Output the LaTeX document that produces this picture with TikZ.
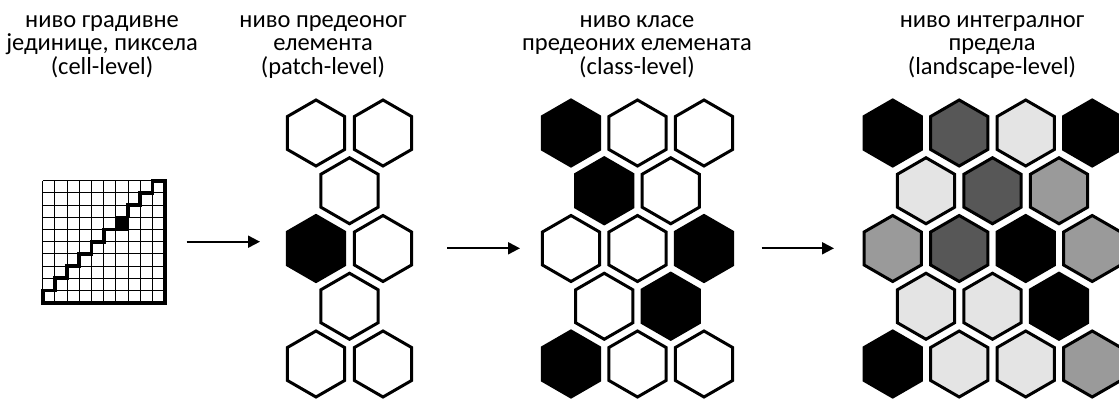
\documentclass[tikz,border=0pt]{standalone}
\usepackage{fontspec}
\setmainfont{Carlito}
\usetikzlibrary{shapes.geometric,arrows.meta}
\definecolor{dgray}{HTML}{575757}
\definecolor{mgray}{HTML}{9A9A9A}
\definecolor{lgray}{HTML}{E4E4E4}
\begin{document}
\begin{tikzpicture}[x=1pt,y=-1pt,
  hexa/.style={regular polygon, regular polygon sides=6, shape border rotate=30,
    minimum size=66pt, inner sep=0pt, outer sep=0pt, draw=black, line width=3pt},
  wh/.style={hexa, fill=white},
  bk/.style={hexa, fill=black},
  dg/.style={hexa, fill=dgray},
  mg/.style={hexa, fill=mgray},
  lg/.style={hexa, fill=lgray},
  lbl/.style={align=center, font=\fontsize{24.5}{23.5}\selectfont, anchor=north, inner sep=0pt},
  arr/.style={line width=2pt, -{Triangle[length=12pt,width=12pt]}}]
\useasboundingbox (0,0) rectangle (1119,401);

% labels
\node[lbl] (t1) at (102,15) {ниво градивне\\јединице, пиксела\\(cell-level)};
\node[lbl] (t2) at (323,15) {ниво предеоног\\елемента\\(patch-level)};
\node[lbl] (t3) at (637,15) {ниво класе\\предеоних елемената\\(class-level)};
\node[lbl] (t4) at (992,15) {ниво интегралног\\предела\\(landscape-level)};

% cell-level grid
\begin{scope}[shift={(42.7,302.7)}, x=12.2pt, y=12.2pt]
  \draw[line width=1.1pt, step=1] (0,0) grid (10,10);
  \filldraw[line width=2.5pt] (6,6) rectangle (7,7);
  \draw[line width=3.8pt, line join=miter]
    (6,6) -- (5,6) -- (5,5) -- (4,5) -- (4,4) -- (3,4) -- (3,3) -- (2,3) -- (2,2)
    -- (1,2) -- (1,1) -- (0,1) -- (0,0) -- (10,0) -- (10,10) -- (9,10) -- (9,9)
    -- (8,9) -- (8,8) -- (7,8) -- (7,7);
\end{scope}

% patch-level
\node[wh] (p1) at (316,133) {};
\node[wh] (p2) at (383,133) {};
\node[wh] (p3) at (349.5,190.75) {};
\node[bk] (p4) at (316,248.5) {};
\node[wh] (p5) at (383,248.5) {};
\node[wh] (p6) at (349.5,306.25) {};
\node[wh] (p7) at (316,364) {};
\node[wh] (p8) at (383,364) {};

% class-level
\node[bk] (c1) at (571,133) {};
\node[wh] (c2) at (637.5,133) {};
\node[wh] (c3) at (704,133) {};
\node[bk] (c4) at (604.25,190.75) {};
\node[wh] (c5) at (670.75,190.75) {};
\node[wh] (c6) at (571,248.5) {};
\node[wh] (c7) at (637.5,248.5) {};
\node[bk] (c8) at (704,248.5) {};
\node[wh] (c9) at (604.25,306.25) {};
\node[bk] (c10) at (670.75,306.25) {};
\node[bk] (c11) at (571,364) {};
\node[wh] (c12) at (637.5,364) {};
\node[wh] (c13) at (704,364) {};

% landscape-level
\node[bk] (l1) at (892.7,133) {};
\node[dg] (l2) at (959.2,133) {};
\node[lg] (l3) at (1025.7,133) {};
\node[bk] (l4) at (1092.2,133) {};
\node[lg] (l5) at (926,190.75) {};
\node[dg] (l6) at (992.5,190.75) {};
\node[mg] (l7) at (1059,190.75) {};
\node[mg] (l8) at (892.7,248.5) {};
\node[dg] (l9) at (959.2,248.5) {};
\node[bk] (l10) at (1025.7,248.5) {};
\node[mg] (l11) at (1092.2,248.5) {};
\node[lg] (l12) at (926,306.25) {};
\node[lg] (l13) at (992.5,306.25) {};
\node[bk] (l14) at (1059,306.25) {};
\node[bk] (l15) at (892.7,364) {};
\node[lg] (l16) at (959.2,364) {};
\node[lg] (l17) at (1025.7,364) {};
\node[mg] (l18) at (1092.2,364) {};

% arrows
\coordinate (a1s) at (186.7,241.7);
\coordinate (a1e) at (260,241.7);
\coordinate (a2s) at (447,248.3);
\coordinate (a2e) at (520,248.3);
\coordinate (a3s) at (761.7,248.3);
\coordinate (a3e) at (834,248.3);
\draw[arr] (a1s) -- (a1e);
\draw[arr] (a2s) -- (a2e);
\draw[arr] (a3s) -- (a3e);
\end{tikzpicture}
\end{document}
